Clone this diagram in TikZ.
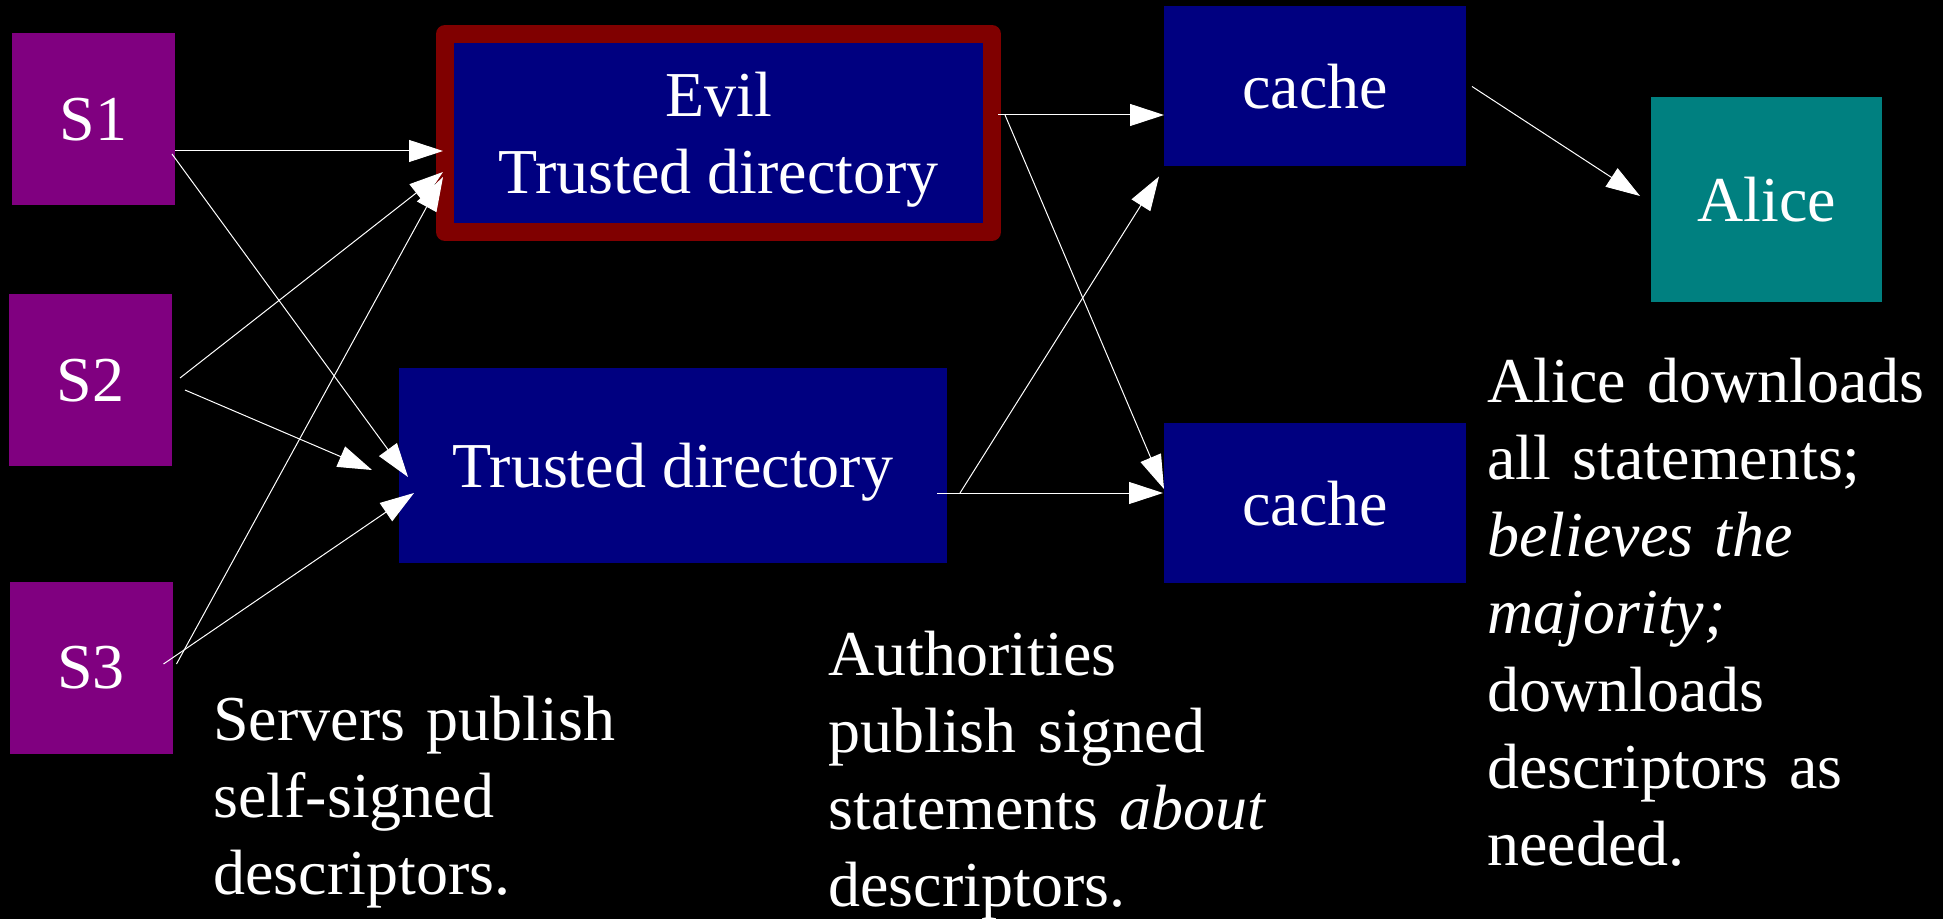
\documentclass[tikz,border=0pt]{standalone}
\usepackage{fontspec}
\setmainfont{Liberation Serif}
\definecolor{srvpurple}{RGB}{128,0,128}
\definecolor{dirnavy}{RGB}{0,0,128}
\definecolor{evilred}{RGB}{128,0,0}
\definecolor{aliceteal}{RGB}{0,128,128}
\usetikzlibrary{arrows.meta,calc}

\begin{document}
\begin{tikzpicture}[x=0.5pt,y=-0.5pt,
  box/.style={inner sep=0pt,outer sep=0pt,text=white,text depth=0pt,
    font=\fontsize{32}{38.5}\selectfont},
  srv/.style={box,fill=srvpurple,minimum width=81.5pt,minimum height=86pt},
  dir/.style={box,fill=dirnavy,minimum width=274pt,minimum height=97.5pt},
  cachebox/.style={box,fill=dirnavy,minimum width=151pt,minimum height=80pt},
  link/.style={white,line width=0.5pt,-{Triangle[length=17pt,width=11pt]}},
  note/.style={anchor=base west,inner sep=0pt,text=white,text width=240pt,
    align=left,font=\fontsize{32}{38.5}\selectfont}]
  % background and page size
  \fill[black] (0,0) rectangle (1943,919);
  \useasboundingbox (0,0) rectangle (1943,919);
  % servers
  \node[srv] (s1) at (93.5,119) {S1};
  \node[srv] (s2) at (90.5,380) {S2};
  \node[srv] (s3) at (91,667.5) {S3};
  % directories
  \node[dir,draw=evilred,line width=9pt,line join=round,align=center,
    minimum width=273.5pt,minimum height=99pt] (evil) at (718.5,133)
    {Evil\\Trusted directory};
  \node[dir] (trusted) at (673,465.5) {Trusted directory};
  % caches and client
  \node[cachebox] (cache1) at (1315,86.5) {cache};
  \node[cachebox] (cache2) at (1315,503) {cache};
  \node[box,fill=aliceteal,minimum width=115.5pt,minimum height=102.5pt]
    (alice) at (1766.5,199.5) {Alice};
  % servers publish to both directories
  \draw[link] ($(s1.east)+(0,32)$) -- ($(evil.west)+(-2,18)$);
  \draw[link] ($(s1.east)+(-3,35)$) -- ($(trusted.west)+(9,11.5)$);
  \draw[link] ($(s2.east)+(8,-2)$) -- ($(evil.west)+(-2,39)$);
  \draw[link] ($(s2.east)+(13,10)$) -- ($(trusted.west)+(-27,4.5)$);
  \draw[link] ($(s3.east)+(4,-3.5)$) -- ($(evil.west)+(-2,44)$);
  \draw[link] ($(s3.east)+(-9,-3.5)$) -- ($(trusted.west)+(15,27.5)$);
  % directories to caches
  \draw[link] ($(evil.east)+(6,-18)$) -- ($(cache1.west)+(0,28.5)$);
  \draw[link] ($(evil.east)+(13,-18)$) -- ($(cache2.west)+(0,-14)$);
  \draw[link] ($(trusted.east)+(-10,27.5)$) -- ($(cache2.west)+(-1,-10)$);
  \draw[link] ($(trusted.east)+(13,27.5)$) -- ($(cache1.south west)+(-5,10)$);
  % cache to Alice
  \draw[link] ($(cache1.east)+(6,0)$) -- ($(alice.west)+(-11,-3.5)$);
  % notes
  \node[note] (srvnote) at (213,740)
    {Servers publish\\self-signed\\descriptors.};
  \node[note] (authnote) at (828,675)
    {Authorities\\publish signed\\statements \emph{about}\\descriptors.};
  \node[note] (alicenote) at (1487,403)
    {Alice downloads\\all statements;\\\emph{believes the}\\\emph{majority;}\\downloads\\descriptors as\\needed.};
\end{tikzpicture}
\end{document}
